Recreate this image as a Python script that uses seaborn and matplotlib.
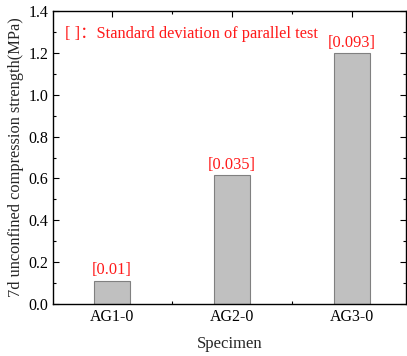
import matplotlib
matplotlib.use("Agg")
import matplotlib.pyplot as plt
import seaborn as sns
import pandas as pd
from matplotlib.ticker import MultipleLocator

specimens = ["AG1-0", "AG2-0", "AG3-0"]
strength = [0.11, 0.615, 1.198]
std_labels = ["[0.01]", "[0.035]", "[0.093]"]

sns.set_theme(style="ticks")
plt.rcParams['font.family'] = ['Liberation Serif', 'Noto Sans CJK SC']
plt.rcParams['xtick.direction'] = 'in'
plt.rcParams['ytick.direction'] = 'in'

df = pd.DataFrame({"Specimen": specimens, "Strength": strength})

fig = plt.figure(figsize=(4.07, 3.56), dpi=100)
ax = fig.add_axes([0.130, 0.146, 0.868, 0.823])
sns.barplot(data=df, x="Specimen", y="Strength", ax=ax, width=0.3,
            color="#C0C0C0", edgecolor="#808080", linewidth=0.8, saturation=1)

ax.set_xlim(-0.49, 2.45)
ax.set_ylim(0, 1.4)
ax.yaxis.set_major_locator(MultipleLocator(0.2))
ax.yaxis.set_minor_locator(MultipleLocator(0.1))
ax.set_xticks([0, 1, 2])
ax.set_xticks([0.5, 1.5], minor=True)
ax.tick_params(which='both', top=True, right=True, direction='in', labelsize=11.5, colors='black')
ax.tick_params(which='major', length=4, width=0.8)
ax.tick_params(which='minor', length=2.5, width=0.8)
for s in ax.spines.values():
    s.set_linewidth(1.0)
    s.set_color('black')

for i, (v, lab) in enumerate(zip(strength, std_labels)):
    ax.annotate(lab, (i, v), xytext=(0, 2), textcoords='offset points',
                ha='center', va='bottom', color='#FF1A1A', fontsize=11.8)

ax.text(0.035, 0.92, "[ ]：Standard deviation of parallel test", transform=ax.transAxes,
        color='#FF1A1A', fontsize=11.8, ha='left', va='center')

ax.set_xlabel("Specimen", fontsize=12, labelpad=8)
ax.set_ylabel("7d unconfined compression strength(MPa)", fontsize=11.8, labelpad=3)

fig.savefig("out.png", dpi=100)
